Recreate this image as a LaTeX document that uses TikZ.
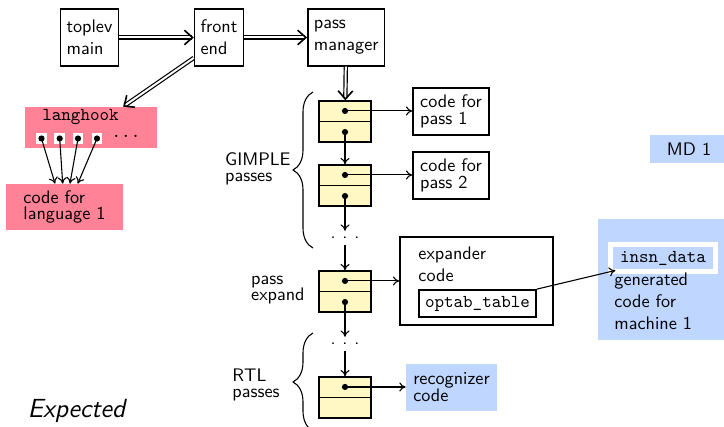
\documentclass[tikz,border=0pt]{standalone}
\usetikzlibrary{arrows.meta, positioning, decorations.pathreplacing}
\renewcommand{\familydefault}{\sfdefault}
\definecolor{hookpink}{RGB}{255,130,150}
\definecolor{mdblue}{RGB}{191,215,255}
\definecolor{passyellow}{RGB}{255,248,196}
\tikzset{
  box/.style={
    rectangle,
    draw,
    thick,
    align=left,
    minimum height=31.35pt
  },
  codebox/.style={
    rectangle,
    draw,
    thick,
    align=left,
    minimum width=41.8pt,
    minimum height=25.85pt
  },
  passbox/.style={
    rectangle,
    draw,
    thick,
    fill=passyellow,
    minimum width=28.6pt,
    minimum height=22.55pt
  },
  pinkbox/.style={rectangle, fill=hookpink, align=left},
  bluebox/.style={rectangle, fill=mdblue, align=left},
  slot/.style={rectangle, fill=white, minimum size=6pt, inner sep=0pt},
  dot/.style={circle, fill=black, minimum size=3.4pt, inner sep=0pt},
  passlabel/.style={align=left, anchor=east},
  bigarrow/.style={-{Straight Barb[length=4.5pt, width=8pt, line width=0.9pt]}, double, double distance=1.1pt, line width=0.65pt},
  arrow/.style={-{To[length=3.5pt, width=5pt]}, line width=0.6pt},
  gbrace/.style={decorate, decoration={brace, amplitude=11pt}, semithick}
}
\begin{document}
\begin{tikzpicture}[x=0.55pt, y=-0.55pt]
\useasboundingbox (0,0) rectangle (724,427);

% top row
\node[box] (toplev) at (89.5,37.5) {toplev\\main};
\node[box, right=41pt of toplev] (frontend) {front\\end};
\node[box, right=34.6pt of frontend] (passmgr) {pass\\manager};

% language hooks
\node[pinkbox, minimum width=72.6pt, minimum height=22.55pt] (langhook) at (91,127.5) {};
\node[font=\ttfamily] (hookname) at (80.5,117) {langhook};
\node[slot] (slot1) at (41.5,138.5) {};
\node[slot] (slot2) at (59.7,138.5) {};
\node[slot] (slot3) at (78,138.5) {};
\node[slot] (slot4) at (97,138.5) {};
\node[dot] (hook1) at (slot1) {};
\node[dot] (hook2) at (slot2) {};
\node[dot] (hook3) at (slot3) {};
\node[dot] (hook4) at (slot4) {};
\node[font=\ttfamily] (hookmore) at (126,136) {...};
\node[pinkbox, minimum width=64.35pt, minimum height=25.3pt] (lang1) at (64.5,207) {code for\\[-3pt]language 1};

% pass list
\node[passbox] (p1) at (345,121.5) {};
\node[passbox] (p2) at (345,185.5) {};
\node (gdots) at (345,238) {.\hspace{3.8pt}.\hspace{3.8pt}.};
\node[passbox] (pexp) at (345,291.5) {};
\node (rdots) at (345,344) {.\hspace{3.8pt}.\hspace{3.8pt}.};
\node[passbox] (prtl) at (345,397.5) {};
\draw[thick] (p1.west) -- (p1.east);
\draw[thick] (p2.west) -- (p2.east);
\draw[thick] (pexp.west) -- (pexp.east);
\draw[thick] (prtl.west) -- (prtl.east);
\node[dot] (p1t) at ([yshift=5.8pt]p1.center) {};
\node[dot] (p1b) at ([yshift=-5.8pt]p1.center) {};
\node[dot] (p2t) at ([yshift=5.8pt]p2.center) {};
\node[dot] (p2b) at ([yshift=-5.8pt]p2.center) {};
\node[dot] (pexpt) at ([yshift=5.8pt]pexp.center) {};
\node[dot] (pexpb) at ([yshift=-5.8pt]pexp.center) {};
\node[dot] (prtlt) at ([yshift=5.8pt]prtl.center) {};

% pass code
\node[codebox] (pass1) at (451,111.5) {code for\\[-3pt]pass 1};
\node[codebox] (pass2) at (451,175.5) {code for\\[-3pt]pass 2};
\node[box, minimum width=84.15pt, minimum height=48.4pt] (expander) at (476.5,281) {};
\node[anchor=west, align=left] (exptext) at (412,264) {expander\\code};
\node[draw, thick, font=\ttfamily] (optab) at (477.5,303.5) {optab\_table};
\node[bluebox, minimum width=50pt, minimum height=25.85pt] (recog) at (451.5,387) {recognizer\\[-3pt]code};

% machine description
\node[bluebox, minimum width=43pt, minimum height=15.4pt] (md) at (689,149) {MD 1};
\node[bluebox, minimum width=71.5pt, minimum height=66.55pt] (machine) at (663,279.5) {};
\node[fill=mdblue, draw=white, line width=2.7pt, inner xsep=5.2pt, minimum height=15pt, font=\ttfamily] (insn) at (663,258) {insn\_data};
\node[anchor=west, align=left] (gentext) at (608,301) {generated\\code for\\machine 1};

% braces and labels
\draw[gbrace] (313,248) -- (313,92);
\draw[gbrace] (313,431) -- (313,333);
\node[passlabel] (gimplelbl) at (297,169) {GIMPLE\\[-3pt]passes};
\node[passlabel] (expandlbl) at (311,290) {pass\\[-3pt]expand};
\node[passlabel] (rtllbl) at (286,385) {RTL\\[-3pt]passes};

\node[font=\Large\itshape] (caption) at (76.5,411) {Expected};

\draw[bigarrow] (toplev) -- (frontend);
\draw[bigarrow] (frontend) -- (passmgr);
\draw[bigarrow] (frontend.219) -- (langhook.33.5);
\draw[bigarrow] (passmgr) -- (p1);
\draw[arrow] (hook1.center) -- ([xshift=-5.2pt]lang1.north);
\draw[arrow] (hook2.center) -- ([xshift=-1pt]lang1.north);
\draw[arrow] (hook3.center) -- ([xshift=3pt]lang1.north);
\draw[arrow] (hook4.center) -- ([xshift=7.3pt]lang1.north);
\draw[arrow] (p1t.center) -- (p1t.center -| pass1.west);
\draw[arrow] (p2t.center) -- (p2t.center -| pass2.west);
\draw[arrow] (pexpt.center) -- (pexpt.center -| expander.west);
\draw[arrow] (prtlt.center) -- (prtlt.center -| recog.west);
\draw[arrow] (p1b.center) -- (p2);
\draw[arrow] (p2b.center) -- (gdots);
\draw[arrow] (gdots) -- (pexp);
\draw[arrow] (pexpb.center) -- (rdots);
\draw[arrow] (rdots) -- (prtl);
\draw[arrow] (optab.north east) -- ([xshift=4pt, yshift=2pt]insn.south west);
\end{tikzpicture}
\end{document}
